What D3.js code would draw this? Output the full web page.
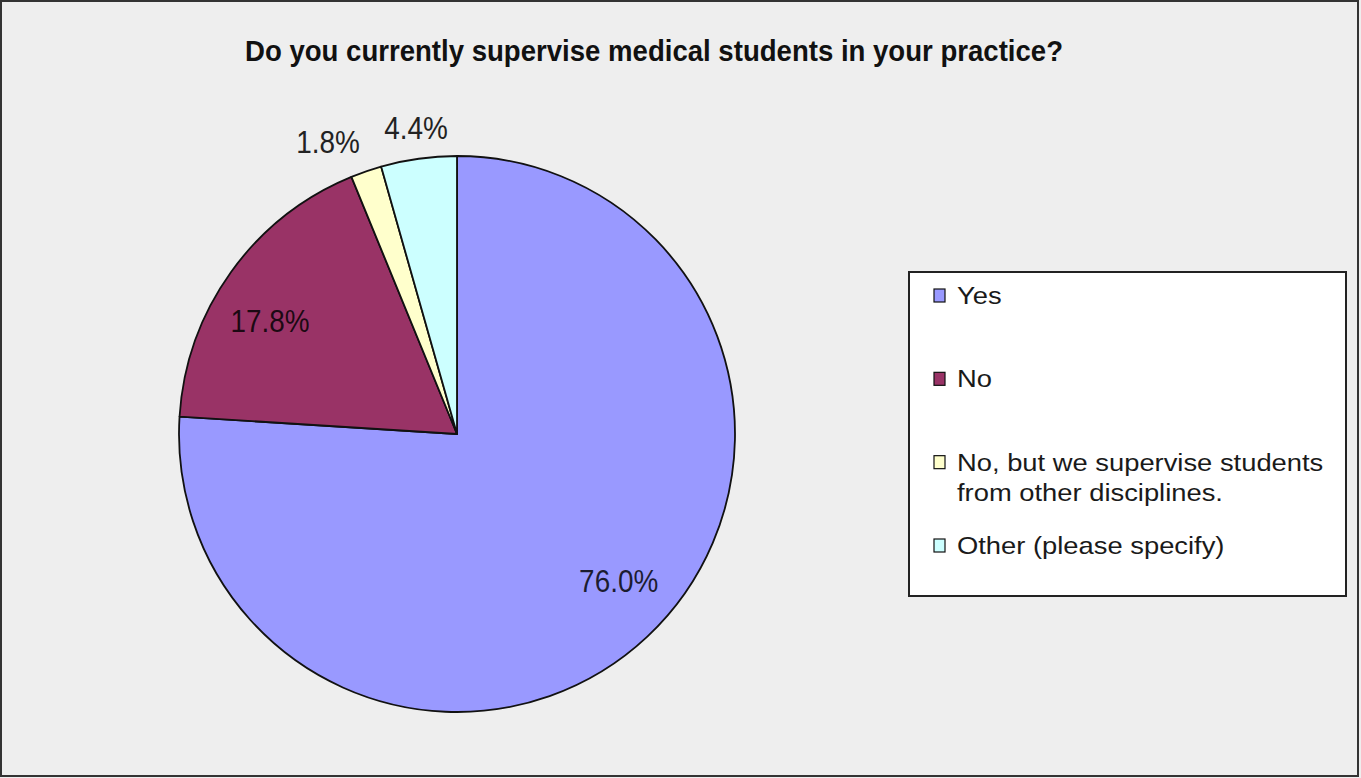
<!DOCTYPE html>
<html>
<head>
<meta charset="utf-8">
<script src="https://cdn.jsdelivr.net/npm/d3@7"></script>
<style>
  html, body { margin: 0; padding: 0; background: #eeeeee; }
  svg { display: block; }
  text { font-family: "Liberation Sans", Arial, sans-serif; }
</style>
</head>
<body>
<svg id="chart" width="1361" height="778"></svg>
<script>
// Survey answers and their shares (percent)
const categories = [
  "Yes",
  "No",
  "No, but we supervise students from other disciplines.",
  "Other (please specify)"
];
const legendLines = [
  ["Yes"],
  ["No"],
  ["No, but we supervise students", "from other disciplines."],
  ["Other (please specify)"]
];
const shares = [76.0, 17.8, 1.8, 4.4];
const colors = ["#9999ff", "#993366", "#ffffcc", "#ccffff"];
const title = "Do you currently supervise medical students in your practice?";

const W = 1361, H = 778;
const svg = d3.select("#chart");

// chart area background and frame
svg.append("rect").attr("x", 0).attr("y", 0).attr("width", W).attr("height", H)
  .attr("fill", "#eeeeee");
svg.append("rect").attr("x", 1).attr("y", 1).attr("width", 1357).attr("height", 775)
  .attr("fill", "none").attr("stroke", "#333").attr("stroke-width", 2);

// title (condensed bold)
svg.append("text")
  .attr("x", 245).attr("y", 61)
  .attr("font-size", 30).attr("font-weight", "bold").attr("fill", "#111")
  .attr("textLength", 818).attr("lengthAdjust", "spacingAndGlyphs")
  .text(title);

// pie
const cx = 457, cy = 434, R = 278;
const data = categories.map((c, i) => ({ cat: c, value: shares[i], color: colors[i] }));
const pie = d3.pie().sort(null).value(d => d.value);
const arcs = pie(data);
const arc = d3.arc().innerRadius(0).outerRadius(R);

const g = svg.append("g").attr("transform", `translate(${cx},${cy})`);
g.selectAll("path.slice").data(arcs).join("path")
  .attr("class", "slice")
  .attr("d", arc)
  .attr("fill", d => d.data.color)
  .attr("stroke", "#111")
  .attr("stroke-width", 1.8)
  .attr("stroke-linejoin", "round");

// data labels: inside for large slices, outside for small ones
const inR = R * 0.785;
const inShift = -4.6 * Math.PI / 180;   // best-fit placement leans slightly counter-clockwise
const outR = R * 1.07;
arcs.forEach(d => {
  const label = d.data.value.toFixed(1) + "%";
  const mid = (d.startAngle + d.endAngle) / 2;
  const inside = d.data.value >= 10;
  let x, y, anchor;
  if (inside) {
    const a = mid + inShift;
    x = Math.sin(a) * inR;
    y = -Math.cos(a) * inR + 11;
    anchor = "middle";
  } else {
    x = Math.sin(mid) * outR;
    y = -Math.cos(mid) * outR;
    const s = Math.sin(mid);
    anchor = s < -0.2 ? "end" : (s > 0.2 ? "start" : "middle");
  }
  g.append("text")
    .attr("transform", `translate(${x},${y}) scale(0.9,1)`)
    .attr("text-anchor", anchor)
    .attr("font-size", 31)
    .attr("fill", inside ? "#000" : "#222")
    .attr("fill-opacity", inside ? 0.82 : 1)
    .text(label);
});

// legend
const legX = 909, legY = 272, legW = 437, legH = 324;
const leg = svg.append("g");
leg.append("rect").attr("x", legX).attr("y", legY).attr("width", legW).attr("height", legH)
  .attr("fill", "#ffffff").attr("stroke", "#222").attr("stroke-width", 2);

const rowY = d3.scalePoint().domain(categories).range([304, 554]);
const lineGap = 30;
categories.forEach((c, i) => {
  const base = rowY(c);
  leg.append("rect")
    .attr("x", 934).attr("y", base - 15).attr("width", 11).attr("height", 13)
    .attr("fill", colors[i]).attr("stroke", "#111").attr("stroke-width", 1.2);
  legendLines[i].forEach((line, j) => {
    leg.append("text")
      .attr("transform", `translate(957,${base + j * lineGap}) scale(1.14,1)`)
      .attr("font-size", 24)
      .attr("fill", "#1a1a1a")
      .text(line);
  });
});
</script>
</body>
</html>
